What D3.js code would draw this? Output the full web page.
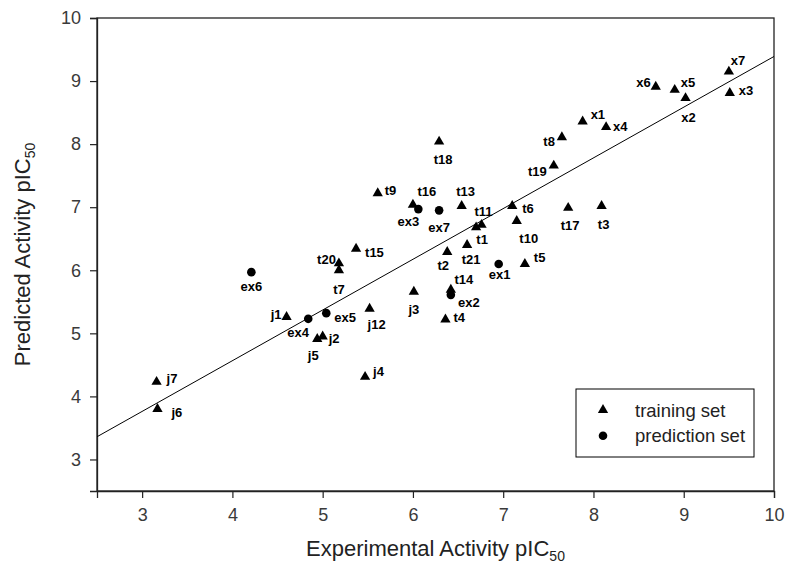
<!DOCTYPE html>
<html>
<head>
<meta charset="utf-8">
<script src="https://cdn.jsdelivr.net/npm/d3@7"></script>
<style>
  html, body { margin: 0; padding: 0; background: #fff; }
  svg { display: block; }
  .tick text { font-family: "Liberation Sans", Arial, sans-serif; font-size: 18px; fill: #3a3a3a; }
  .ptlabel { font-family: "Liberation Sans", Arial, sans-serif; font-size: 13px; font-weight: bold; fill: #000; }
  .title { font-family: "Liberation Sans", Arial, sans-serif; font-size: 22px; fill: #222; }
  .legend text { font-family: "Liberation Sans", Arial, sans-serif; font-size: 18.5px; fill: #222; }
</style>
</head>
<body>
<svg id="chart" width="787" height="573"></svg>
<script>
// Training set compounds: experimental vs. predicted pIC50
const trainingNames = ["j7","j6","j1","j5","j2","j4","j12","t20","t7","t15","j3","t2","t14","t4","t21","t1","t11","t5","t10","t6","t13","t16","t18","t9","t17","t3","t19","t8","x4","x1","x6","x5","x2","x7","x3"];
const trainingExp   = [3.16,3.17,4.60,4.94,5.00,5.47,5.52,5.18,5.18,5.37,6.01,6.38,6.42,6.36,6.60,6.70,6.76,7.24,7.15,7.10,6.54,6.00,6.29,5.61,7.72,8.09,7.56,7.65,8.14,7.88,8.69,8.90,9.02,9.50,9.51];
const trainingPred  = [4.23,3.80,5.26,4.91,4.95,4.31,5.39,6.11,6.00,6.34,5.66,6.29,5.69,5.22,6.40,6.68,6.72,6.10,6.78,7.02,7.02,7.04,8.04,7.22,6.99,7.02,7.66,8.11,8.27,8.36,8.91,8.86,8.73,9.15,8.81];

// Prediction (test) set compounds
const predictionNames = ["ex6","ex4","ex5","ex2","ex1","ex7","ex3"];
const predictionExp   = [4.21,4.84,5.04,6.42,6.95,6.29,6.06];
const predictionPred  = [5.97,5.23,5.32,5.61,6.10,6.95,6.97];

// Linear fit through the training set
const fitSlope = 0.804;
const fitIntercept = 1.35;

// Axis ticks
const xTicks = [3,4,5,6,7,8,9,10];
const yTicks = [3,4,5,6,7,8,9,10];

// Label placement around each marker: [dx, dy, anchor]
const labelPlacement = {
  j7:[10,-3,"start"], j6:[14,3,"start"], j1:[-5,-2,"end"], j5:[-4,16,"middle"], j2:[6,2,"start"],
  j4:[8,-5,"start"], j12:[7,16,"middle"], t20:[-3,-4,"end"], t7:[0,19,"middle"], t15:[9,4,"start"],
  j3:[0,18,"middle"], t2:[-4,14,"middle"], t14:[13,-10,"middle"], t4:[8,-2,"start"], t21:[4,14,"middle"],
  t1:[6,12,"middle"], t11:[2,-13,"middle"], t5:[9,-6,"start"], t10:[12,17,"middle"], t6:[10,3,"start"],
  t13:[4,-14,"middle"], t16:[14,-13,"middle"], t18:[4,18,"middle"], t9:[7,-3,"start"], t17:[2,18,"middle"],
  t3:[2,19,"middle"], t19:[-7,6,"end"], t8:[-7,4,"end"], x4:[7,-1,"start"], x1:[8,-7,"start"],
  x6:[-5,-4,"end"], x5:[6,-7,"start"], x2:[3,19,"middle"], x7:[2,-11,"start"], x3:[9,-3,"start"],
  ex6:[0,14,"middle"], ex4:[-10,14,"middle"], ex5:[8,4,"start"], ex2:[18,8,"middle"], ex1:[1,11,"middle"],
  ex7:[0,17,"middle"], ex3:[-10,12,"middle"]
};

const svg = d3.select("#chart");
const plotLeft = 97, plotRight = 774, plotTop = 18, plotBottom = 491;

const x = d3.scaleLinear().domain([2.5, 10]).range([plotLeft, plotRight]);
const y = d3.scaleLinear().domain([2.5, 10]).range([plotBottom, plotTop]);

// Frame
svg.append("rect")
  .attr("x", plotLeft).attr("y", plotTop)
  .attr("width", plotRight - plotLeft).attr("height", plotBottom - plotTop)
  .attr("fill", "none").attr("stroke", "#222").attr("stroke-width", 1.3);

// Axes
const xAxis = svg.append("g")
  .attr("transform", `translate(0,${plotBottom})`)
  .call(d3.axisBottom(x).tickValues(xTicks).tickSize(7).tickPadding(10).tickFormat(d3.format("d")));
const yAxis = svg.append("g")
  .attr("transform", `translate(${plotLeft},0)`)
  .call(d3.axisLeft(y).tickValues(yTicks).tickSize(7).tickPadding(9).tickFormat(d3.format("d")));
[xAxis, yAxis].forEach(g => {
  g.select(".domain").attr("stroke", "#222").attr("stroke-width", 1.3);
  g.selectAll(".tick line").attr("stroke", "#222").attr("stroke-width", 1.2);
});

// Regression line
const fitLine = d3.line().x(d => x(d)).y(d => y(fitSlope * d + fitIntercept));
svg.append("path")
  .attr("d", fitLine(x.domain()))
  .attr("fill", "none").attr("stroke", "#000").attr("stroke-width", 1);

// Markers
const training = trainingNames.map((n, i) => ({ name: n, ex: trainingExp[i], pr: trainingPred[i] }));
const prediction = predictionNames.map((n, i) => ({ name: n, ex: predictionExp[i], pr: predictionPred[i] }));

const tri = d3.symbol().type(d3.symbolTriangle).size(46);
const dot = d3.symbol().type(d3.symbolCircle).size(58);

svg.append("g").selectAll("path").data(training).join("path")
  .attr("d", tri)
  .attr("transform", d => `translate(${x(d.ex)},${y(d.pr)})`)
  .attr("fill", "#000");

svg.append("g").selectAll("path").data(prediction).join("path")
  .attr("d", dot)
  .attr("transform", d => `translate(${x(d.ex)},${y(d.pr)})`)
  .attr("fill", "#000");

// Compound labels
svg.append("g").selectAll("text").data(training.concat(prediction)).join("text")
  .attr("class", "ptlabel")
  .attr("x", d => x(d.ex) + labelPlacement[d.name][0])
  .attr("y", d => y(d.pr) + labelPlacement[d.name][1])
  .attr("text-anchor", d => labelPlacement[d.name][2])
  .attr("dominant-baseline", "central")
  .text(d => d.name);

// Axis titles
const xt = svg.append("text").attr("class", "title")
  .attr("x", (plotLeft + plotRight) / 2).attr("y", 556).attr("text-anchor", "middle");
xt.append("tspan").text("Experimental Activity pIC");
xt.append("tspan").attr("font-size", "14px").attr("dy", 5).text("50");

const yt = svg.append("text").attr("class", "title")
  .attr("transform", `translate(30,${(plotTop + plotBottom) / 2}) rotate(-90)`)
  .attr("text-anchor", "middle");
yt.append("tspan").text("Predicted Activity pIC");
yt.append("tspan").attr("font-size", "14px").attr("dy", 5).text("50");

// Legend
const legend = svg.append("g").attr("class", "legend");
legend.append("rect")
  .attr("x", 576).attr("y", 389).attr("width", 178).attr("height", 68)
  .attr("fill", "#fff").attr("stroke", "#000").attr("stroke-width", 1);
const legendItems = [["training set", tri], ["prediction set", dot]];
legendItems.forEach(([label, sym], i) => {
  const cy = 410 + i * 25.7;
  legend.append("path").attr("d", sym).attr("transform", `translate(603,${cy})`).attr("fill", "#000");
  legend.append("text").attr("x", 635).attr("y", cy).attr("dominant-baseline", "central").text(label);
});
</script>
</body>
</html>
